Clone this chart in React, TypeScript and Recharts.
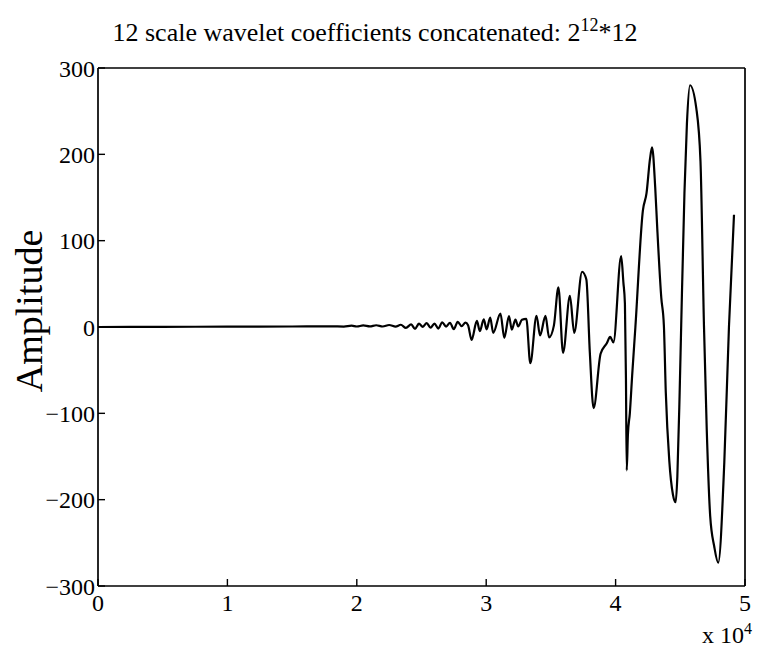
import { CartesianGrid, Line, LineChart, XAxis, YAxis } from 'recharts';

// sample index (0 .. 2^12*12) and coefficient amplitude
const sampleIdx = [
  0, 5000, 10000, 15000, 18000, 19000, 19600, 20000, 20500, 21000, 21500, 22000, 22500, 23000, 23400,
  23800, 24200, 24500, 24800, 25100, 25400, 25700, 26000, 26300, 26600, 26900, 27200, 27500, 27800,
  28100, 28400, 28600, 28870, 29280, 29510, 29810, 30030, 30310, 30540, 31100, 31400, 31760, 31980,
  32260, 32470, 32760, 33100, 33410, 33890, 34160, 34580, 34860, 35230, 35580, 35940, 36470, 36800,
  37410, 37740, 38010, 38300, 38840, 39320, 39580, 39830, 40430, 40600, 40720, 40800, 40860, 40950,
  41100, 41280, 41530, 42110, 42390, 42660, 42820, 43060, 43220, 43530, 43730, 43880, 44150, 44430,
  44640, 44770, 44950, 45070, 45320, 45510, 45750, 46240, 46560, 46830, 47040, 47310, 47620, 47930,
  48400, 48760, 49150,
];
const amplitude = [
  0, 0.2, 0.4, 0.6, 0.8, 0.5, 1.5, 0.6, 1.8, 0.7, 2.0, 0.6, 2.3, 0.4, 2.6,
  -1.0, 3.0, -2.2, 3.8, 0.2, 4.5, -0.8, 4.0, -1.8, 5.5, 0.5, 4.8, -2.5, 6.0,
  1.0, 5.0, 2.0, -15, 7, -4.7, 9, -2.7, 10.9, -6.7, 15.6, -12.6, 12.7, -3,
  8.6, 0.6, 8.4, 9.5, -42, 13, -9.8, 12.8, -12, 1.6, 46, -30, 36, -6.8,
  64, 55, -30, -94, -31, -18.8, -11.4, -17.8, 82, 52, 27, -60, -166, -125,
  -100, -56, 0, 135, 155, 195, 208, 162, 114, 34, 2, -76, -155, -194,
  -203, -174, -76, 2, 155, 235, 280, 253, 192, 1, -117, -219, -254, -273,
  -157, 0, 130,
];
const xTicks = [0, 10000, 20000, 30000, 40000, 50000];
const yTicks = [-300, -200, -100, 0, 100, 200, 300];

const rows = sampleIdx.map((x, i) => ({ x, y: amplitude[i] }));

const serif = '"Liberation Serif", "DejaVu Serif", serif';
const tickStyle = { fill: '#000', fontSize: 24, fontFamily: serif };
const axisStroke = { stroke: '#000', strokeWidth: 1.7 };
const tickStroke = { stroke: '#000', strokeWidth: 1.4 };

const fmtY = (v: number) => (v < 0 ? '\u2212' + Math.abs(v) : String(v));

export default function App() {
  return (
    <div style={{ position: 'absolute', left: 0, top: 0, width: 757, height: 647, background: '#fff', fontFamily: serif }}>
      <div style={{ position: 'absolute', left: 0, width: 750, top: 15, textAlign: 'center', fontSize: 26, color: '#000', whiteSpace: 'nowrap' }}>
        12 scale wavelet coefficients concatenated: 2<sup style={{ fontSize: 18 }}>12</sup>*12
      </div>
      <div
        style={{
          position: 'absolute', left: 29, top: 311, fontSize: 38, color: '#000',
          transform: 'translate(-50%, -50%) rotate(-90deg)', whiteSpace: 'nowrap',
        }}
      >
        Amplitude
      </div>
      <div style={{ position: 'absolute', left: 702, top: 620, fontSize: 24, color: '#000', whiteSpace: 'nowrap' }}>
        x 10<sup style={{ fontSize: 16 }}>4</sup>
      </div>
      <LineChart width={757} height={647} data={rows} margin={{ top: 58, right: 2, bottom: 21, left: 38 }}>
        <CartesianGrid stroke="none" />
        <XAxis
          dataKey="x" type="number" domain={[0, 50000]} ticks={xTicks} allowDataOverflow
          tickFormatter={(v: number) => String(v / 10000)}
          tick={tickStyle} tickSize={-7} tickMargin={15} height={40}
          axisLine={axisStroke} tickLine={tickStroke}
        />
        <XAxis
          xAxisId="top" orientation="top" dataKey="x" type="number" domain={[0, 50000]} ticks={xTicks}
          tick={false} tickSize={-7} height={10}
          axisLine={axisStroke} tickLine={tickStroke}
        />
        <YAxis
          type="number" domain={[-300, 300]} ticks={yTicks} allowDataOverflow
          tickFormatter={fmtY}
          tick={tickStyle} tickSize={-7} tickMargin={10} width={60}
          axisLine={axisStroke} tickLine={tickStroke}
        />
        <YAxis
          yAxisId="right" orientation="right" type="number" domain={[-300, 300]} ticks={yTicks}
          tick={false} tickSize={-7} width={10}
          axisLine={axisStroke} tickLine={tickStroke}
        />
        <Line
          type="monotone" dataKey="y" stroke="#000" strokeWidth={2.2} dot={false}
          isAnimationActive={false}
        />
      </LineChart>
    </div>
  );
}
